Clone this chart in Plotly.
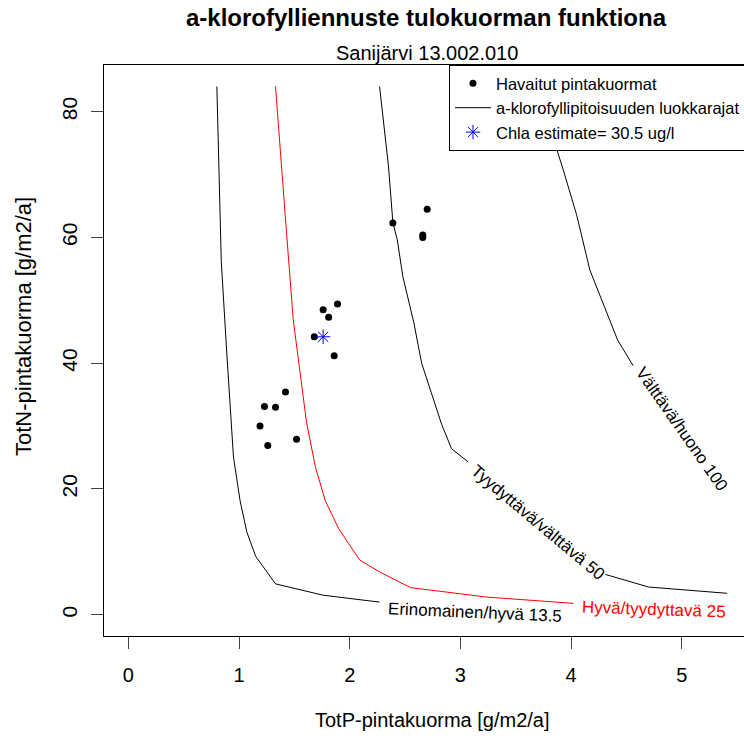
import plotly.graph_objects as go

# ---------------- data ----------------
# class-limit contours (TotP, TotN)
P13 = [0.80, 0.84, 0.89, 0.95, 1.01, 1.07, 1.15, 1.33, 1.76, 2.27]
N13 = [84.0, 56.2, 41.5, 25.1, 18.1, 13.2, 9.3, 4.9, 3.1, 2.0]

P25 = [1.33, 1.37, 1.43, 1.49, 1.55, 1.61, 1.69, 1.78, 1.90, 2.09, 2.27, 2.55, 3.24, 4.02]
N25 = [84.0, 74.2, 60.6, 46.9, 38.8, 30.6, 23.5, 18.1, 13.7, 8.7, 6.8, 4.3, 2.8, 1.8]

P50 = [2.27, 2.35, 2.39, 2.43, 2.48, 2.58, 2.65, 2.74, 2.83, 2.92, 3.07, None, 4.31, 4.70, 5.41]
N50 = [84.0, 71.4, 62.4, 59.6, 53.8, 46.4, 40.0, 35.2, 30.3, 26.4, 24.3, None, 6.4, 4.4, 3.4]

P100 = [3.67, 3.86, 3.93, 4.05, 4.17, 4.31, 4.42, 4.56]
N100 = [84.0, 74.6, 70.7, 63.6, 54.8, 48.5, 43.7, 39.6]

# observed surface loads
obs_P = [2.70, 2.39, 2.66, 2.66, 1.89, 1.76, 1.81, 1.68, 1.86, 1.42, 1.23, 1.33, 1.19, 1.52, 1.26]
obs_N = [64.5, 62.3, 60.4, 60.0, 49.4, 48.5, 47.3, 44.2, 41.2, 35.4, 33.1, 33.0, 30.0, 27.9, 26.9]

# chlorophyll estimate
est_P = [1.76]
est_N = [44.2]
est_value = 30.5

contour_names = ["Erinomainen/hyvä 13.5", "Hyvä/tyydyttavä 25",
                 "Tyydyttävä/välttävä 50", "Välttävä/huono 100"]

x_ticks = [0, 1, 2, 3, 4, 5]
y_ticks = [0, 20, 40, 60, 80]

# ---------------- figure ----------------
FONT = "Liberation Sans, Arial, Helvetica, sans-serif"
fig = go.Figure()

fig.add_trace(go.Scatter(x=P13, y=N13, mode="lines", line=dict(color="black", width=1),
                         name="a-klorofyllipitoisuuden luokkarajat", showlegend=True,
                         legendrank=2, hoverinfo="skip"))
fig.add_trace(go.Scatter(x=P25, y=N25, mode="lines", line=dict(color="red", width=1),
                         showlegend=False, hoverinfo="skip"))
fig.add_trace(go.Scatter(x=P50, y=N50, mode="lines", line=dict(color="black", width=1),
                         showlegend=False, connectgaps=False, hoverinfo="skip"))
fig.add_trace(go.Scatter(x=P100, y=N100, mode="lines", line=dict(color="black", width=1),
                         showlegend=False, hoverinfo="skip"))
fig.add_trace(go.Scatter(x=obs_P, y=obs_N, mode="markers",
                         marker=dict(color="black", size=7, symbol="circle"),
                         name="Havaitut pintakuormat", legendrank=1))
fig.add_trace(go.Scatter(x=est_P, y=est_N, mode="markers",
                         marker=dict(symbol="asterisk-open", size=12, color="blue",
                                     line=dict(color="blue", width=1)),
                         name=f"Chla estimate= {est_value} ug/l", legendrank=3))

# contour labels
lab_pos = [(3.13, 0.35, 2.5, "black"), (4.75, 0.9, 2, "red"),
           (3.70, 14.7, 40, "black"), (5.00, 29.4, 55, "black")]
for name, (lx, ly, ang, col) in zip(contour_names, lab_pos):
    fig.add_annotation(x=lx, y=ly, xref="x", yref="y", text=name, showarrow=False,
                       textangle=ang, font=dict(family=FONT, size=17, color=col),
                       bgcolor="rgba(0,0,0,0)")

L, R, T, B = 104, 0, 65, 104
W, H = 744, 740
pw = W - L - R
ph = H - T - B

def px_x(px):
    return (px - L) / pw

def px_y(py):
    return (H - B - py) / ph

fig.add_annotation(x=px_x(426), y=px_y(17), xref="paper", yref="paper",
                   text="<b>a-klorofylliennuste tulokuorman funktiona</b>", showarrow=False,
                   font=dict(family=FONT, size=24, color="black"), yanchor="middle")
fig.add_annotation(x=px_x(427), y=px_y(53), xref="paper", yref="paper",
                   text="Sanijärvi 13.002.010", showarrow=False,
                   font=dict(family=FONT, size=20, color="black"), yanchor="middle")
fig.add_annotation(x=px_x(432), y=px_y(720), xref="paper", yref="paper",
                   text="TotP-pintakuorma [g/m2/a]", showarrow=False,
                   font=dict(family=FONT, size=20, color="black"), yanchor="middle")
fig.add_annotation(x=px_x(23), y=px_y(327), xref="paper", yref="paper",
                   text="TotN-pintakuorma [g/m2/a]", showarrow=False, textangle=-90,
                   font=dict(family=FONT, size=22, color="black"), xanchor="center",
                   yanchor="middle")

fig.update_layout(
    width=W, height=H,
    margin=dict(l=L, r=R, t=T, b=B, autoexpand=False),
    paper_bgcolor="white", plot_bgcolor="white",
    font=dict(family=FONT, color="black"),
    showlegend=True,
    legend=dict(x=px_x(449), y=1, xanchor="left", yanchor="top",
                bgcolor="white", bordercolor="black", borderwidth=1,
                font=dict(family=FONT, size=16.5, color="black"),
                itemwidth=36, traceorder="normal", tracegroupgap=0),
    xaxis=dict(range=[-0.2195, 5.562], tickvals=x_ticks, ticktext=[str(v) for v in x_ticks],
               showgrid=False, zeroline=False, showline=True, mirror=True,
               linecolor="black", linewidth=1, ticks="outside", ticklen=12,
               tickcolor="#444", tickwidth=1, tickfont=dict(family=FONT, size=20),
               ticklabelstandoff=9, automargin=False),
    yaxis=dict(range=[-3.39, 87.43], tickvals=y_ticks, ticktext=[str(v) for v in y_ticks],
               showgrid=False, zeroline=False, showline=True, mirror=True,
               linecolor="black", linewidth=1, ticks="outside", ticklen=12,
               tickcolor="#444", tickwidth=1, tickfont=dict(family=FONT, size=21),
               tickangle=-90, ticklabelstandoff=6, automargin=False),
)

fig.write_html("out.html")
